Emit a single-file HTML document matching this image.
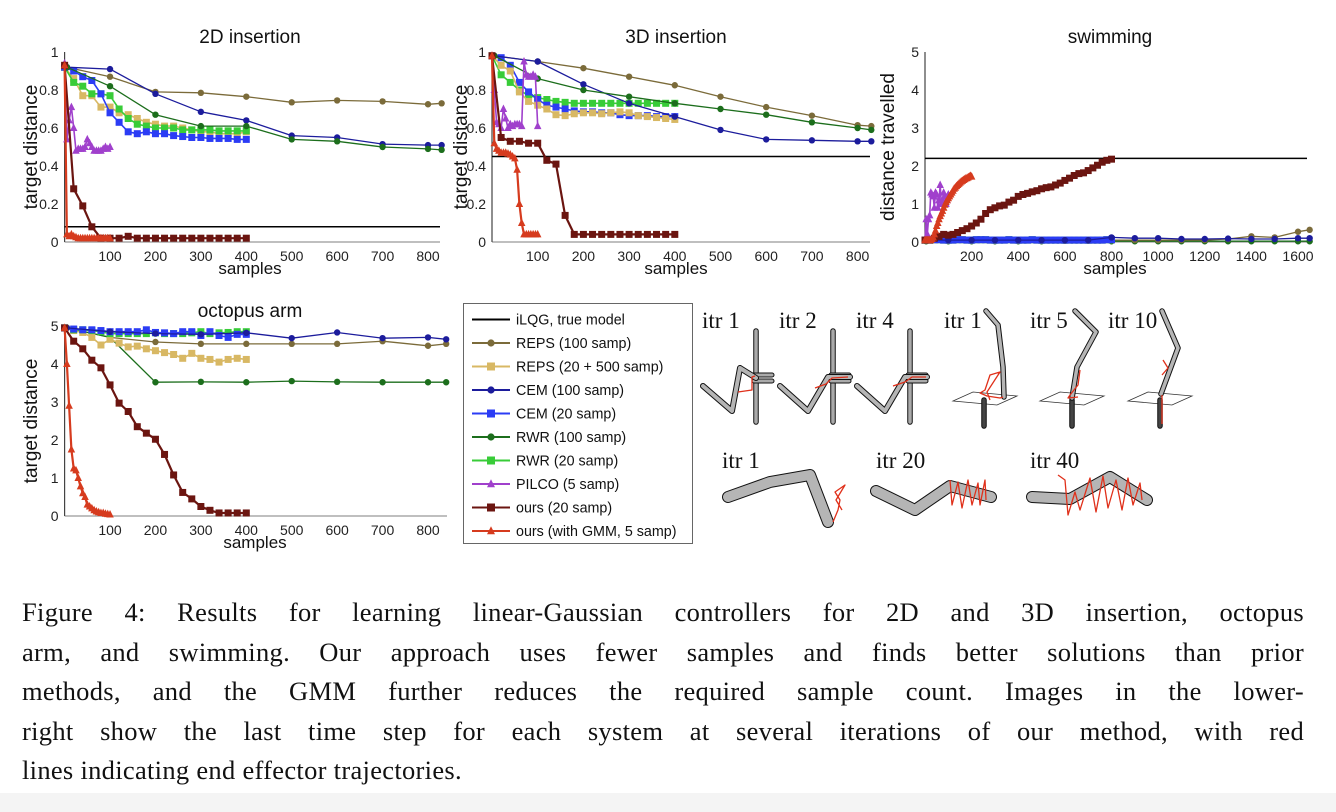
<!DOCTYPE html>
<html><head><meta charset="utf-8">
<style>
body{margin:0;background:#fff;width:1336px;height:812px;overflow:hidden;position:relative;font-family:"Liberation Sans",sans-serif}
svg{position:absolute;left:0;top:0}
.cap{position:absolute;left:22px;width:1282px;font-family:"Liberation Serif",serif;font-size:26.5px;letter-spacing:0.3px;color:#111;text-align:justify;text-align-last:justify;white-space:nowrap;line-height:30px}
.band{position:absolute;left:0;top:793px;width:1336px;height:19px;background:#f4f4f4}
</style></head>
<body>
<svg id="fig" width="1336" height="812" viewBox="0 0 1336 812"></svg>
<div class="cap" style="top:597px;white-space:normal">Figure 4: Results for learning linear-Gaussian controllers for 2D and 3D insertion, octopus</div>
<div class="cap" style="top:637px;white-space:normal">arm, and swimming. Our approach uses fewer samples and finds better solutions than prior</div>
<div class="cap" style="top:676px;white-space:normal">methods, and the GMM further reduces the required sample count. Images in the lower-</div>
<div class="cap" style="top:716px;white-space:normal">right show the last time step for each system at several iterations of our method, with red</div>
<div class="cap" style="top:755px;text-align-last:left">lines indicating end effector trajectories.</div>
<div class="band"></div>
<script>
// ---------- data ----------
const X5=[0,5,10,15,20,25,30,35,40,45,50,55,60,65,70,75,80,85,90,95,100];
const X20=[0,20,40,60,80,100,120,140,160,180,200,220,240,260,280,300,320,340,360,380,400];
// 2D insertion
const d2_x100=[5,100,200,300,400,500,600,700,800,830];
const d2_reps100=[0.92,0.87,0.79,0.785,0.765,0.735,0.745,0.74,0.725,0.73];
const d2_cem100=[0.92,0.91,0.78,0.685,0.64,0.56,0.55,0.515,0.51,0.51];
const d2_rwr100=[0.92,0.82,0.67,0.61,0.61,0.54,0.53,0.50,0.49,0.485];
const d2_reps20=[0.92,0.86,0.77,0.77,0.71,0.71,0.68,0.67,0.65,0.63,0.62,0.61,0.61,0.60,0.59,0.58,0.58,0.57,0.57,0.57,0.58];
const d2_cem20=[0.92,0.90,0.87,0.85,0.78,0.68,0.63,0.58,0.57,0.58,0.57,0.57,0.56,0.555,0.55,0.55,0.545,0.545,0.545,0.54,0.54];
const d2_rwr20=[0.92,0.84,0.82,0.78,0.78,0.77,0.70,0.65,0.62,0.61,0.60,0.60,0.60,0.59,0.59,0.59,0.59,0.585,0.585,0.585,0.585];
const d2_pilco=[0.94,0.54,0.64,0.71,0.60,0.48,0.49,0.49,0.49,0.50,0.54,0.52,0.50,0.48,0.48,0.48,0.48,0.49,0.50,0.49,0.50];
const d2_ours=[0.93,0.28,0.19,0.08,0.02,0.02,0.02,0.03,0.02,0.02,0.02,0.02,0.02,0.02,0.02,0.02,0.02,0.02,0.02,0.02,0.02];
const d2_gmm=[0.93,0.04,0.03,0.04,0.03,0.025,0.02,0.02,0.02,0.02,0.02,0.02,0.02,0.02,0.02,0.02,0.02,0.02,0.02,0.02,0.02];
const d2_ilqg=0.08;
// 3D insertion
const d3_x100=[5,100,200,300,400,500,600,700,800,830];
const d3_reps100=[0.98,0.95,0.915,0.87,0.825,0.765,0.71,0.665,0.615,0.61];
const d3_cem100=[0.98,0.95,0.83,0.73,0.66,0.59,0.54,0.535,0.53,0.53];
const d3_rwr100=[0.98,0.86,0.80,0.765,0.73,0.70,0.67,0.63,0.60,0.59];
const d3_reps20=[0.98,0.93,0.90,0.79,0.74,0.72,0.70,0.67,0.665,0.675,0.68,0.68,0.675,0.68,0.685,0.68,0.665,0.66,0.655,0.65,0.645];
const d3_cem20=[0.98,0.97,0.93,0.84,0.79,0.75,0.72,0.71,0.70,0.69,0.685,0.685,0.68,0.68,0.67,0.665,0.665,0.665,0.66,0.66,0.66];
const d3_rwr20=[0.98,0.88,0.84,0.80,0.77,0.76,0.75,0.74,0.735,0.73,0.73,0.73,0.73,0.73,0.73,0.73,0.73,0.73,0.73,0.73,0.73];
const d3_pilco=[0.98,0.80,0.63,0.62,0.60,0.70,0.65,0.60,0.62,0.61,0.62,0.62,0.62,0.61,0.95,0.88,0.87,0.87,0.88,0.87,0.61];
const d3_ours=[0.98,0.55,0.53,0.53,0.52,0.52,0.43,0.41,0.14,0.04,0.04,0.04,0.04,0.04,0.04,0.04,0.04,0.04,0.04,0.04,0.04];
const d3_gmm=[0.98,0.52,0.49,0.48,0.47,0.47,0.47,0.465,0.46,0.45,0.44,0.38,0.20,0.10,0.04,0.04,0.04,0.04,0.04,0.04,0.04];
const d3_ilqg=0.45;
// swimming
const sw_x100=[5,100,200,300,400,500,600,700,800,900,1000,1100,1200,1300,1400,1500,1600,1650];
const sw_reps100=[0.03,0.03,0.03,0.03,0.03,0.03,0.03,0.03,0.05,0.05,0.05,0.05,0.05,0.08,0.15,0.12,0.27,0.32];
const sw_cem100=[0.05,0.05,0.05,0.05,0.05,0.05,0.05,0.05,0.12,0.10,0.10,0.08,0.08,0.09,0.08,0.08,0.10,0.10];
const sw_rwr100=[0.02,0.02,0.02,0.02,0.02,0.02,0.03,0.04,0.02,0.02,0.02,0.02,0.02,0.02,0.02,0.02,0.02,0.02];
const sw_x40=[0,20,40,60,80,100,120,140,160,180,200,220,240,260,280,300,320,340,360,380,400,420,440,460,480,500,520,540,560,580,600,620,640,660,680,700,720,740,760,780,800];
const sw_flat20=[0.05,0.05,0.06,0.06,0.05,0.05,0.05,0.06,0.06,0.05,0.05,0.06,0.06,0.06,0.05,0.05,0.05,0.05,0.06,0.05,0.05,0.05,0.05,0.06,0.05,0.05,0.05,0.05,0.05,0.05,0.05,0.05,0.05,0.05,0.05,0.05,0.05,0.05,0.05,0.06,0.06];
const sw_ours=[0.05,0.05,0.10,0.15,0.20,0.18,0.20,0.25,0.30,0.35,0.42,0.50,0.60,0.75,0.85,0.90,0.95,0.97,1.05,1.10,1.20,1.25,1.28,1.32,1.35,1.40,1.43,1.45,1.50,1.55,1.62,1.68,1.75,1.80,1.82,1.88,1.95,2.02,2.10,2.15,2.18];
const sw_x5=[0,5,10,15,20,25,30,35,40,45,50,55,60,65,70,75,80,85,90,95,100,105,110,115,120,125,130,135,140,145,150,155,160,165,170,175,180,185,190,195,200];
const sw_gmm=[0.05,0.05,0.05,0.05,0.05,0.05,0.08,0.12,0.20,0.30,0.42,0.50,0.60,0.68,0.75,0.82,0.90,0.98,1.05,1.10,1.15,1.20,1.25,1.30,1.35,1.40,1.43,1.47,1.50,1.53,1.56,1.59,1.61,1.63,1.65,1.67,1.68,1.70,1.72,1.74,1.72];
const sw_pilco=[0.05,0.60,0.20,0.60,0.70,1.30,1.25,1.20,0.90,1.30,1.25,0.90,1.10,1.50,1.00,1.10,1.30,1.20,1.00,1.10,1.25];
const sw_ilqg=2.2;
// octopus arm
const oc_x100=[5,100,200,300,400,500,600,700,800,840];
const oc_reps100=[4.95,4.70,4.58,4.53,4.53,4.53,4.53,4.60,4.48,4.53];
const oc_cem100=[4.95,4.85,4.80,4.78,4.82,4.68,4.83,4.68,4.70,4.65];
const oc_rwr100=[4.95,4.70,3.52,3.53,3.52,3.55,3.53,3.52,3.52,3.52];
const oc_reps20=[4.95,4.88,4.83,4.70,4.50,4.65,4.55,4.45,4.47,4.40,4.35,4.30,4.25,4.15,4.28,4.15,4.12,4.05,4.12,4.15,4.12];
const oc_cem20=[4.95,4.92,4.90,4.90,4.88,4.85,4.85,4.85,4.85,4.90,4.83,4.82,4.80,4.85,4.85,4.75,4.85,4.75,4.70,4.78,4.78];
const oc_rwr20=[4.95,4.90,4.90,4.88,4.85,4.80,4.80,4.80,4.80,4.80,4.82,4.80,4.80,4.80,4.82,4.85,4.80,4.82,4.83,4.85,4.85];
const oc_ours=[4.95,4.60,4.40,4.10,3.90,3.45,2.97,2.75,2.35,2.18,2.02,1.62,1.08,0.62,0.45,0.25,0.15,0.08,0.08,0.08,0.08];
const oc_gmm=[4.95,4.00,2.90,1.75,1.25,1.20,1.00,0.78,0.60,0.50,0.30,0.25,0.20,0.15,0.12,0.10,0.08,0.08,0.06,0.05,0.04];
// ticks
const ticks01=[0,0.2,0.4,0.6,0.8,1];
const tickLabels01=["0","0.2","0.4","0.6","0.8","1"];
const ticks05=[0,1,2,3,4,5];
const ticksX800=[100,200,300,400,500,600,700,800];
const ticksX1600=[200,400,600,800,1000,1200,1400,1600];
const legendLabels=["iLQG, true model","REPS (100 samp)","REPS (20 + 500 samp)","CEM (100 samp)","CEM (20 samp)","RWR (100 samp)","RWR (20 samp)","PILCO (5 samp)","ours (20 samp)","ours (with GMM, 5 samp)"];

// ---------- styles ----------
const ST={
 ilqg:{c:'#000',w:1.5,m:null},
 reps100:{c:'#7b6b3a',w:1.3,m:'o'},
 reps20:{c:'#d8b864',w:1.6,m:'s'},
 cem100:{c:'#1c1c9c',w:1.3,m:'o'},
 cem20:{c:'#2b3cf5',w:1.6,m:'s'},
 rwr100:{c:'#1c6e1c',w:1.3,m:'o'},
 rwr20:{c:'#38cc38',w:1.6,m:'s'},
 pilco:{c:'#a040cc',w:1.6,m:'t'},
 ours:{c:'#6b1510',w:2.2,m:'s'},
 gmm:{c:'#d63b1e',w:2.2,m:'t'}
};
const NS='http://www.w3.org/2000/svg';
const svg=document.getElementById('fig');
function el(tag,attrs,parent){const e=document.createElementNS(NS,tag);for(const k in attrs)e.setAttribute(k,attrs[k]);(parent||svg).appendChild(e);return e;}
function txt(s,attrs,parent){const e=el('text',attrs,parent);e.textContent=s;return e;}
function marker(g,m,x,y,c,sz){
 let e;
 if(m==='o'){e=el('circle',{cx:x,cy:y,r:sz||3.2,fill:c},g);}
 else if(m==='s'){const s=sz||7;e=el('rect',{x:x-s/2,y:y-s/2,width:s,height:s,fill:c},g);}
 else if(m==='t'){const s=sz||7.5;e=el('polygon',{points:`${x},${y-s*0.6} ${x-s/2},${y+s*0.4} ${x+s/2},${y+s*0.4}`,fill:c},g);}
 return e;
}
function makeAxis(ax){
 ax.sx=v=>ax.px0+(v-ax.xmin)*(ax.px1-ax.px0)/(ax.xmax-ax.xmin);
 ax.sy=v=>ax.py0+(v-ax.ymin)*(ax.py1-ax.py0)/(ax.ymax-ax.ymin);
 return ax;
}
function drawFrame(ax,name,title,ylabel,yt,ytl,xt){
 const g=el('g',{});
 
 
 const t=txt(title,{x:ax.titleX,y:ax.titleY,'font-size':19,'text-anchor':'middle',fill:'#111'},g);
 
 
 const yl=txt(ylabel,{x:0,y:0,'font-size':19,'text-anchor':'middle',fill:'#111',transform:`translate(${ax.ylx},${(ax.sy(ax.ymin)+ax.sy(ax.ymax))/2}) rotate(-90)`},g);
 
 
 const xl=txt('samples',{x:ax.xlX,y:ax.xlY,'font-size':17,'text-anchor':'middle',fill:'#111'},g);
 
 
 const xa=el('line',{x1:ax.sx(ax.xmin),x2:ax.right,y1:ax.sy(ax.ymin),y2:ax.sy(ax.ymin),stroke:'#999','stroke-width':1.2},g);
 
 
 const ya=el('line',{x1:ax.sx(ax.xmin),x2:ax.sx(ax.xmin),y1:ax.sy(ax.ymin),y2:ax.sy(ax.ymax),stroke:'#444','stroke-width':1.2},g);
 
 
 yt.forEach((v,i)=>{
  const e=txt(ytl[i],{x:ax.sx(ax.xmin)-6,y:ax.sy(v)+5,'font-size':14,'text-anchor':'end',fill:'#222'},g);
  
  
 });
 xt.forEach(v=>{
  const e=txt(String(v),{x:ax.sx(v),y:ax.sy(ax.ymin)+19,'font-size':14,'text-anchor':'middle',fill:'#222'},g);
  
  
 });
}
function series(ax,key,xs,ys,name){
 const s=ST[key];
 const g=el('g',{});
 
 
 const pts=xs.map((x,i)=>ax.sx(x).toFixed(1)+','+ax.sy(ys[i]).toFixed(1)).join(' ');
 el('polyline',{points:pts,fill:'none',stroke:s.c,'stroke-width':s.w,'stroke-linejoin':'round'},g);
 if(s.m) xs.forEach((x,i)=>{
  const mk=marker(g,s.m,ax.sx(x),ax.sy(ys[i]),s.c);
  
  
 });
}
function hline(ax,v,name){
 const l=el('line',{x1:ax.sx(ax.xmin),x2:ax.right,y1:ax.sy(v),y2:ax.sy(v),stroke:'#000','stroke-width':1.5});
 
 
}

// ---------- 2D insertion ----------
const A2=makeAxis({px0:64.6,px1:428,xmin:0,xmax:800,py0:242,py1:52,ymin:0,ymax:1,right:440,titleX:250,titleY:43,ylx:37,xlX:250,xlY:274});
drawFrame(A2,'chart-2d-insertion','2D insertion','target distance',ticks01,tickLabels01,ticksX800);
hline(A2,d2_ilqg,'2d-ilqg-line');
series(A2,'reps100',d2_x100,d2_reps100,'2d-reps100');
series(A2,'reps20',X20,d2_reps20,'2d-reps20');
series(A2,'rwr20',X20,d2_rwr20,'2d-rwr20');
series(A2,'cem20',X20,d2_cem20,'2d-cem20');
series(A2,'cem100',d2_x100,d2_cem100,'2d-cem100');
series(A2,'rwr100',d2_x100,d2_rwr100,'2d-rwr100');
series(A2,'pilco',X5,d2_pilco,'2d-pilco');
series(A2,'ours',X20,d2_ours,'2d-ours');
series(A2,'gmm',X5,d2_gmm,'2d-ours-gmm');

// ---------- 3D insertion ----------
const A3=makeAxis({px0:492,px1:857.6,xmin:0,xmax:800,py0:242,py1:52,ymin:0,ymax:1,right:870,titleX:676,titleY:43,ylx:467,xlX:676,xlY:274});
drawFrame(A3,'chart-3d-insertion','3D insertion','target distance',ticks01,tickLabels01,ticksX800);
hline(A3,d3_ilqg,'3d-ilqg-line');
series(A3,'reps100',d3_x100,d3_reps100,'3d-reps100');
series(A3,'rwr20',X20,d3_rwr20,'3d-rwr20');
series(A3,'cem20',X20,d3_cem20,'3d-cem20');
series(A3,'reps20',X20,d3_reps20,'3d-reps20');
series(A3,'cem100',d3_x100,d3_cem100,'3d-cem100');
series(A3,'rwr100',d3_x100,d3_rwr100,'3d-rwr100');
series(A3,'pilco',X5,d3_pilco,'3d-pilco');
series(A3,'ours',X20,d3_ours,'3d-ours');
series(A3,'gmm',X5,d3_gmm,'3d-ours-gmm');

// ---------- swimming ----------
const AS=makeAxis({px0:925,px1:1298,xmin:0,xmax:1600,py0:242,py1:52,ymin:0,ymax:5,right:1307,titleX:1110,titleY:43,ylx:894,xlX:1115,xlY:274});
drawFrame(AS,'chart-swimming','swimming','distance travelled',ticks05,ticks05.map(String),ticksX1600);
hline(AS,sw_ilqg,'swim-ilqg-line');
series(AS,'rwr100',sw_x100,sw_rwr100,'swim-rwr100');
series(AS,'reps100',sw_x100,sw_reps100,'swim-reps100');
series(AS,'reps20',sw_x40,sw_flat20,'swim-reps20');
series(AS,'rwr20',sw_x40,sw_flat20,'swim-rwr20');
series(AS,'cem20',sw_x40,sw_flat20,'swim-cem20');
series(AS,'cem100',sw_x100,sw_cem100,'swim-cem100');
series(AS,'pilco',X5,sw_pilco,'swim-pilco');
series(AS,'ours',sw_x40,sw_ours,'swim-ours');
series(AS,'gmm',sw_x5,sw_gmm,'swim-ours-gmm');

// ---------- octopus ----------
const AO=makeAxis({px0:64.6,px1:428,xmin:0,xmax:800,py0:516,py1:326,ymin:0,ymax:5,right:447,titleX:250,titleY:317,ylx:37,xlX:255,xlY:548});
drawFrame(AO,'chart-octopus-arm','octopus arm','target distance',ticks05,ticks05.map(String),ticksX800);
series(AO,'reps100',oc_x100,oc_reps100,'oct-reps100');
series(AO,'rwr100',oc_x100,oc_rwr100,'oct-rwr100');
series(AO,'reps20',X20,oc_reps20,'oct-reps20');
series(AO,'rwr20',X20,oc_rwr20,'oct-rwr20');
series(AO,'cem20',X20,oc_cem20,'oct-cem20');
series(AO,'cem100',oc_x100,oc_cem100,'oct-cem100');
series(AO,'ours',X20,oc_ours,'oct-ours');
series(AO,'gmm',X5,oc_gmm,'oct-ours-gmm');

// ---------- legend ----------
const LG=el('g',{});


el('rect',{x:463.5,y:303.5,width:229,height:240,fill:'#fff',stroke:'#666','stroke-width':1},LG);
const lkeys=['ilqg','reps100','reps20','cem100','cem20','rwr100','rwr20','pilco','ours','gmm'];
lkeys.forEach((k,i)=>{
 const y=319.5+i*23.5;const s=ST[k];
 const ge=el('g',{},LG);
 
 
 el('line',{x1:472,x2:510,y1:y,y2:y,stroke:s.c,'stroke-width':2},ge);
 if(s.m) marker(ge,s.m,491,y,s.c,s.m==='o'?3.6:8);
 txt(legendLabels[i],{x:516,y:y+5,'font-size':14.3,fill:'#111'},ge);
});

// ---------- robot illustrations ----------
const RB=el('g',{});


function limb(pts,w,fill,g){
 el('polyline',{points:pts,fill:'none',stroke:'#111','stroke-width':w+2,'stroke-linecap':'round','stroke-linejoin':'round'},g||RB);
 el('polyline',{points:pts,fill:'none',stroke:fill||'#b5b5b5','stroke-width':w,'stroke-linecap':'round','stroke-linejoin':'round'},g||RB);
}
function red(pts,g){el('polyline',{points:pts,fill:'none',stroke:'#e0301a','stroke-width':1.3,'stroke-linejoin':'round'},g);}
function lab(s,x,y,name){const t=txt(s,{x:x,y:y,'font-family':'Liberation Serif, serif','font-size':23,fill:'#111'},RB);}
[[702,756,'itr 1'],[779,833,'itr 2'],[856,910,'itr 4']].forEach((p,i)=>{
 const [lx,bx,l]=p;
 lab(l,lx,328,'insertion-label-'+(i+1));
 limb(`${bx},331 ${bx},422`,3.5,'#aaa',RB);
 limb(`${bx-2},375 ${bx+16},375`,3,'#aaa',RB);
 limb(`${bx-2},381 ${bx+16},381`,3,'#aaa',RB);
});
limb('703,386 732,411 740,368 756,378',4);
red('738,392 752,390 752,377 755,376',RB);
limb('780,386 808,411 828,377 850,377',4);
red('815,388 826,384 832,378 848,377',RB);
limb('857,386 885,411 905,377 927,377',4);
red('893,386 905,382 912,377 926,377',RB);
lab('itr 1',944,328,'3d-label-1');lab('itr 5',1030,328,'3d-label-5');lab('itr 10',1108,328,'3d-label-10');
[[984,'953,401 973,392 1017,396 997,405'],[1072,'1040,401 1060,392 1104,396 1084,405'],[1160,'1128,401 1148,392 1192,396 1172,405']].forEach(p=>{
 el('polygon',{points:p[1],fill:'none',stroke:'#333','stroke-width':0.8},RB);
 limb(`${p[0]},400 ${p[0]},426`,3.5,'#444',RB);
});
limb('986,311 998,325 1003,367 1004,397',3.5);
red('990,400 987,392 1000,372 990,375 985,390 980,393 987,396 1000,398 1003,397',RB);
limb('1075,311 1096,332 1077,367 1072,398',3.5);
red('1080,370 1078,385 1070,395 1068,398 1078,397',RB);
limb('1162,311 1178,348 1161,394',3.5);
red('1162,395 1162,424',RB);red('1163,360 1168,368 1162,375',RB);
lab('itr 1',722,468,'swimmer-label-1');lab('itr 20',876,468,'swimmer-label-20');lab('itr 40',1030,468,'swimmer-label-40');
limb('728,497 770,482 810,475 828,522',10);
red('833,522 838,510 840,500 835,492 845,485 836,500 842,510',RB);
limb('876,491 915,510 950,486 991,497',10);
red('950,480 952,505 958,482 962,508 968,480 972,505 978,483 980,505 985,480 986,500',RB);
limb('1032,497 1070,499 1110,477 1147,500',10);
red('1058,475 1065,480 1068,515 1075,492 1080,510 1090,478 1096,512 1103,476 1108,508 1116,480 1122,510 1128,478 1133,505 1140,483 1142,500',RB);
</script>
</body></html>
